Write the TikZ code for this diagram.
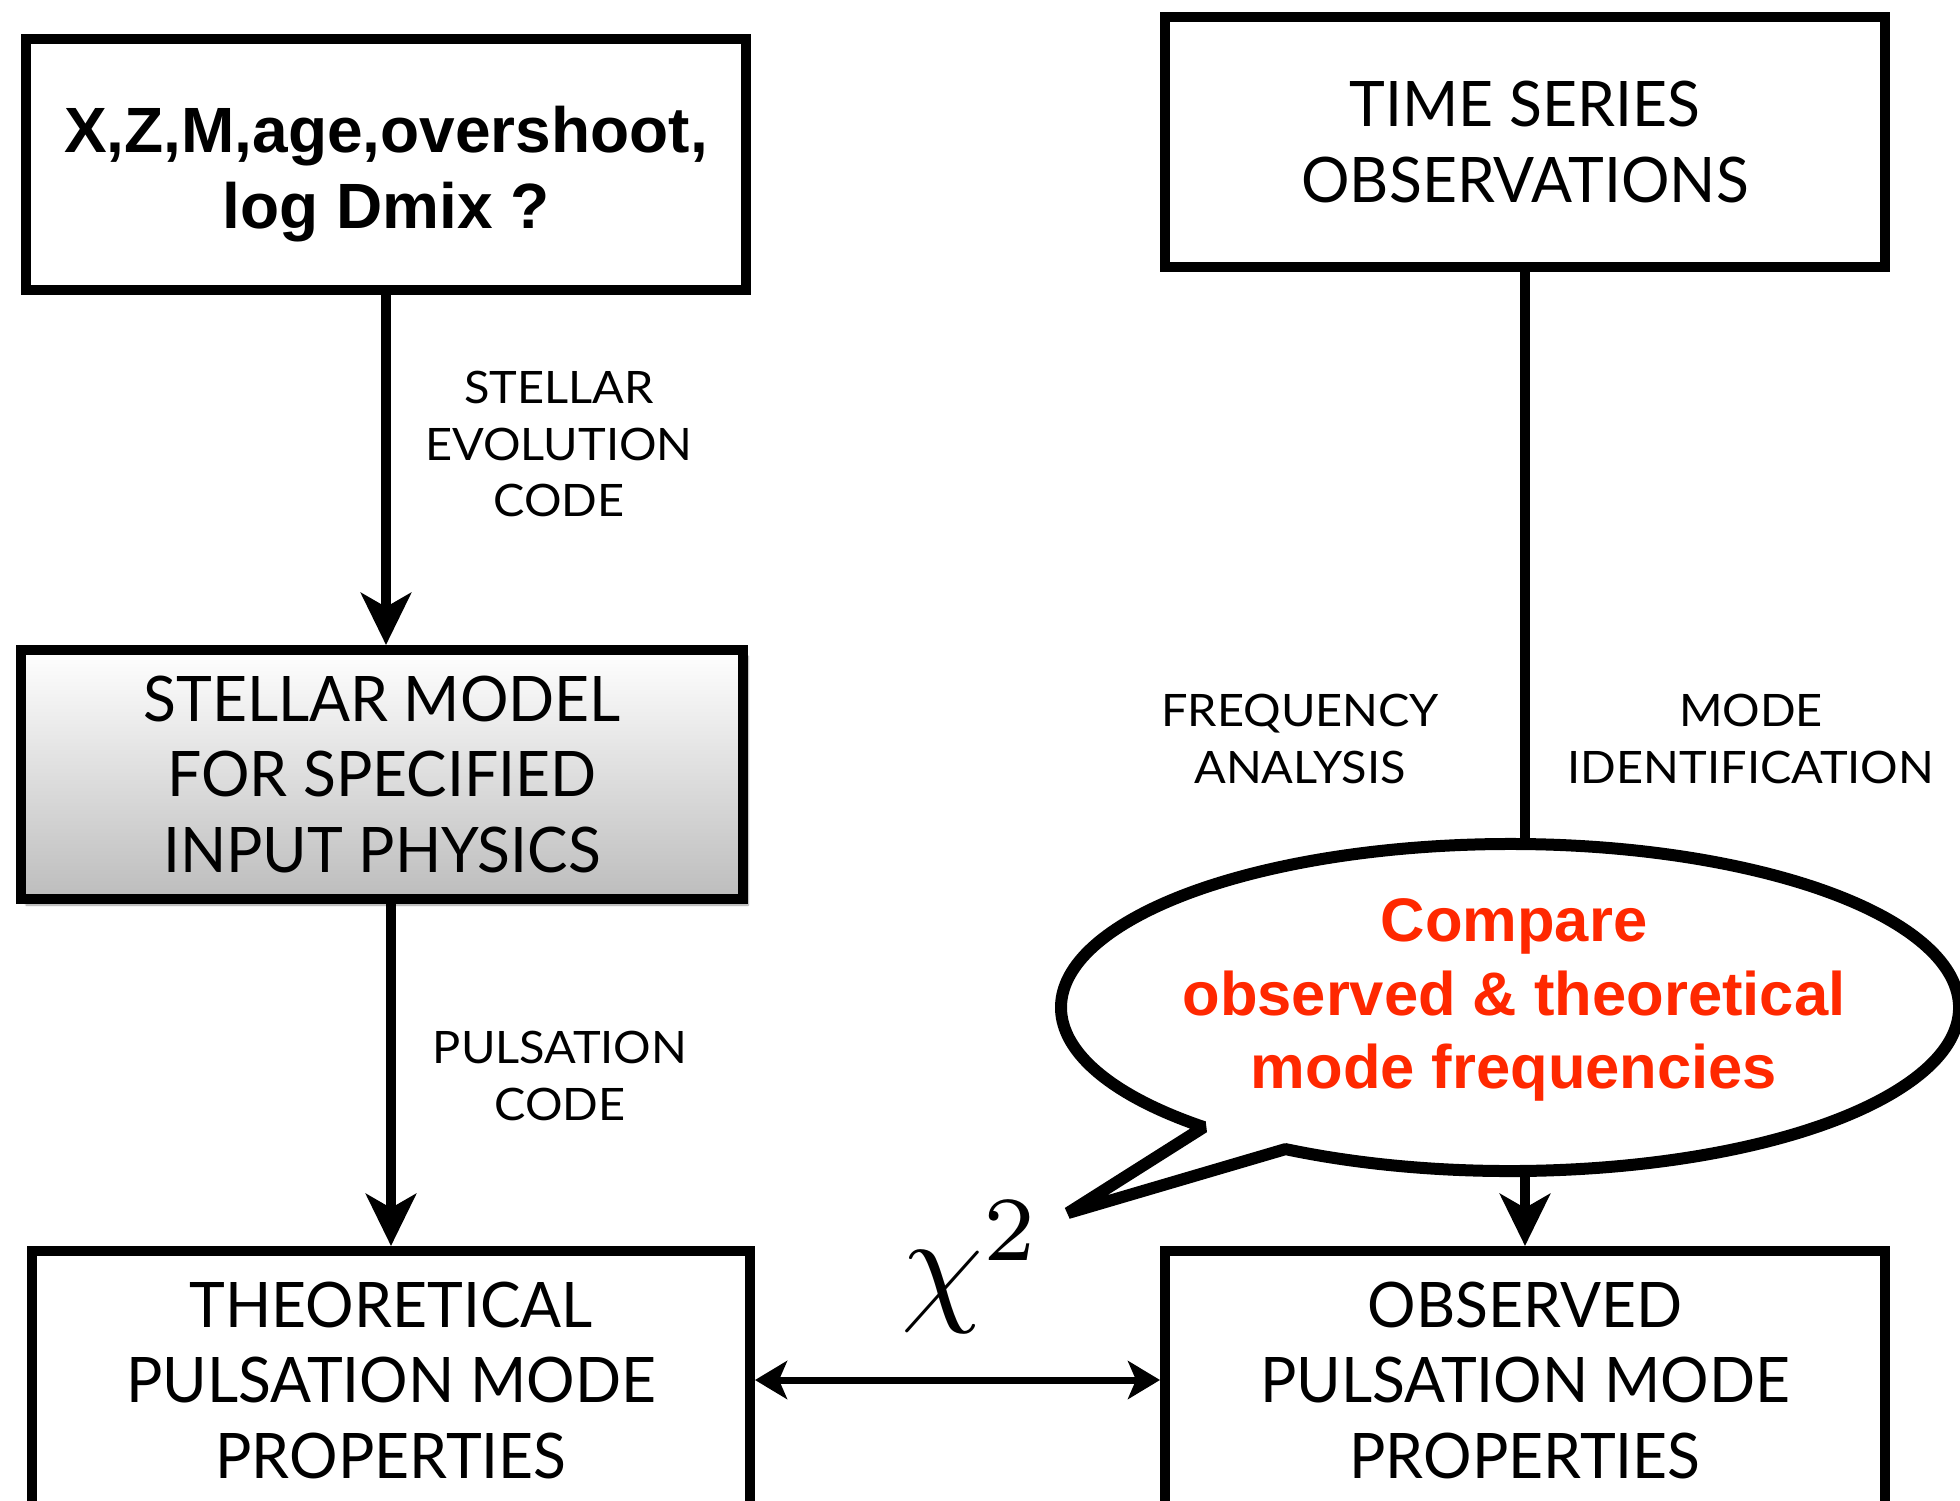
\documentclass[tikz,border=0pt]{standalone}
\usepackage{fontspec}
\newfontfamily\gillbox{Lato}[FakeStretch=0.965]
\newfontfamily\gilllab{Lato}[FakeStretch=1.05]
\newfontfamily\helv{Liberation Sans}
\usetikzlibrary{arrows.meta,shadows.blur}
\definecolor{bubred}{RGB}{255,40,0}
\tikzset{
  box/.style={draw, line width=10pt, rectangle, inner sep=0pt, align=center, fill=white,
    font=\gillbox\fontsize{62.8}{75.5}\selectfont},
  lab/.style={font=\gilllab\fontsize{44.7}{56.5}\selectfont, align=center, inner sep=0pt},
  toptext/.style={font=\helv\bfseries\fontsize{64}{76.5}\selectfont, align=center, inner sep=0pt},
  redtext/.style={font=\helv\bfseries\fontsize{61.5}{73.5}\selectfont, align=center, inner sep=0pt, text=bubred},
  arr/.style={line width=10pt, -{Stealth[length=52pt,width=50pt,inset=14pt]}},
  dbl/.style={line width=7pt, {Stealth[length=32pt,width=38pt,inset=8pt]}-{Stealth[length=32pt,width=38pt,inset=8pt]}},
  bubble/.style={draw, line width=12pt, fill=white, line join=bevel},
}
\begin{document}
\begin{tikzpicture}[x=1pt,y=-1pt]
\useasboundingbox (0,0) rectangle (1960,1500);
\clip (0,0) rectangle (1960,1500);

% boxes
\node[box, minimum width=720pt, minimum height=251pt] (p) at (386,164.5) {};
\node[toptext] (ptext) at ([yshift=-9.5pt]p.center) {X,Z,M,age,overshoot,\\log Dmix ?};

\node[box, minimum width=720pt, minimum height=250pt] (ts) at (1525,142) {TIME SERIES\\OBSERVATIONS};

\node[box, minimum width=722pt, minimum height=249pt,
  top color=white, bottom color=black!26,
  blur shadow={shadow xshift=5pt, shadow yshift=-6pt, shadow blur steps=8, shadow opacity=40}]
  (sm) at (382,774.5) {STELLAR MODEL\\FOR SPECIFIED\\INPUT PHYSICS};

\node[box, minimum width=718pt, minimum height=258pt] (th) at (391,1380) {THEORETICAL\\PULSATION MODE\\PROPERTIES};
\node[box, minimum width=720pt, minimum height=258pt] (obs) at (1525,1380) {OBSERVED\\PULSATION MODE\\PROPERTIES};

% labels
\node[lab] (l1) at (559,444) {STELLAR\\EVOLUTION\\CODE};
\node[lab] (l2) at (560,1076) {PULSATION\\CODE};
\node[lab] (l3) at (1300,739) {FREQUENCY\\ANALYSIS};
\node[lab] (l4) at (1751,739) {MODE\\IDENTIFICATION};

% connectors
\draw[arr] (p.south) -- (p.south |- sm.north);
\draw[arr] (th.north |- sm.south) -- (th.north);
\draw[arr] (ts.south) -- (obs.north);
\draw[dbl] (th.east) -- (obs.west);

% chi^2
\node[inner sep=0pt] (chi) at (972,1267) {\scalebox{13.1}{$\chi^2$}};

% speech bubble
\coordinate (bc) at (1510,1007.5);
\coordinate (tip) at (1068,1213);
\draw[bubble] (bc) ++(120:449 and 163.5)
  arc[start angle=120, end angle=-227, x radius=449, y radius=163.5]
  -- (tip) -- cycle;
\node[redtext] (cmp) at (1514,1000) {Compare\\observed \& theoretical\\mode frequencies};
\end{tikzpicture}
\end{document}
